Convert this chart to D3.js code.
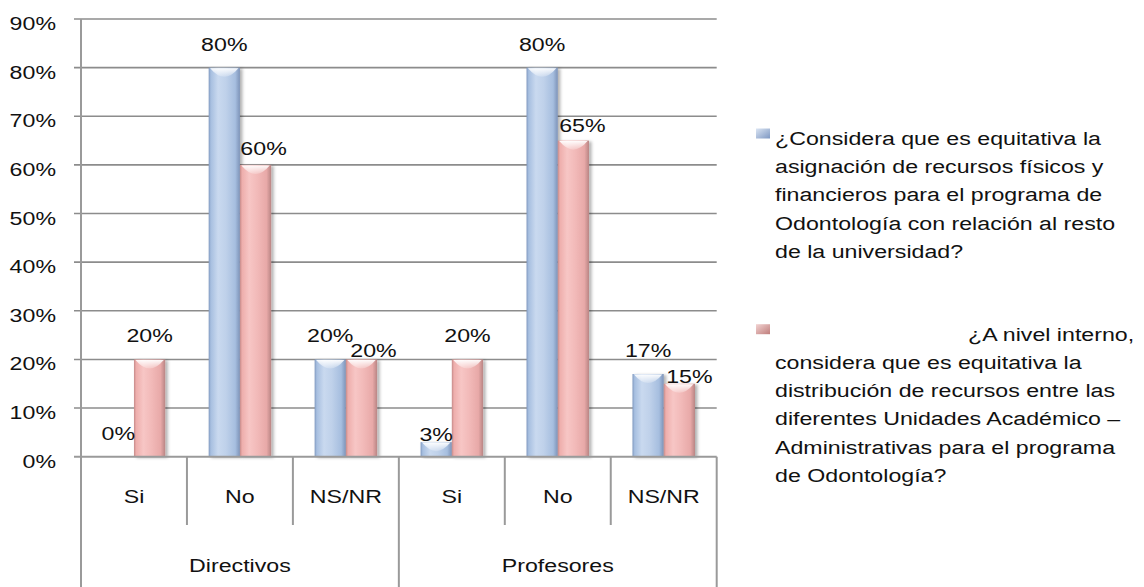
<!DOCTYPE html>
<html><head><meta charset="utf-8">
<script src="https://cdn.jsdelivr.net/npm/d3@7"></script>
<style>
html,body{margin:0;padding:0;background:#fff;}
svg{display:block;font-family:"Liberation Sans",Arial,sans-serif;}
</style></head>
<body><svg id="c" width="1144" height="587"></svg>
<script>
// ---- data ----
const groups = ["Directivos", "Profesores"];
const answers = ["Si", "No", "NS/NR"];
const seriesNames = [
  "¿Considera que es equitativa la asignación de recursos físicos y financieros para el programa de Odontología con relación al resto de la universidad?",
  "¿A nivel interno, considera que es equitativa la distribución de recursos entre las diferentes Unidades Académico – Administrativas para el programa de Odontología?"
];
const serie1 = [0, 80, 20, 3, 80, 17];     // blue
const serie2 = [20, 60, 20, 20, 65, 15];   // red
const yTicks = [0, 10, 20, 30, 40, 50, 60, 70, 80, 90];
const legendLines1 = ["¿Considera que es equitativa la", "asignación de recursos físicos y", "financieros para el programa de", "Odontología con relación al resto", "de la universidad?"];
const legendLines2 = ["¿A nivel interno,", "considera que es equitativa la", "distribución de recursos entre las", "diferentes Unidades Académico –", "Administrativas para el programa", "de Odontología?"];

// label nudges (layout only, px)
const labelShift1 = [[0,0],[0,0],[0,0],[0,16],[0,0],[0,0]];
const labelShift2 = [[0,0],[8,7],[12,15],[0,0],[9,8],[10,16]];

const SX = 1.22, FS = 19;
const svg = d3.select("#c");
const defs = svg.append("defs");

function hGrad(id, stops){
  const g = defs.append("linearGradient").attr("id", id).attr("x1","0").attr("x2","1").attr("y1","0").attr("y2","0");
  stops.forEach(s => g.append("stop").attr("offset", s[0]).attr("stop-color", s[1]));
}
hGrad("gB", [[0,"#8099c0"],[0.07,"#a7bfe0"],[0.3,"#c9d9ef"],[0.55,"#bfd1ea"],[0.85,"#a6bedf"],[1,"#7d93b8"]]);
hGrad("gR", [[0,"#c58a89"],[0.07,"#eeaeac"],[0.3,"#f7c6c5"],[0.55,"#f2bab9"],[0.85,"#e8a9a8"],[1,"#b98584"]]);
const hl = defs.append("linearGradient").attr("id","hl").attr("x1","0").attr("x2","0").attr("y1","0").attr("y2","1");
hl.append("stop").attr("offset",0).attr("stop-color","#fff").attr("stop-opacity",0.95);
hl.append("stop").attr("offset",1).attr("stop-color","#fff").attr("stop-opacity",0.2);
const f = defs.append("filter").attr("id","sh").attr("x","-30%").attr("y","-10%").attr("width","160%").attr("height","120%");
f.append("feDropShadow").attr("dx",2.5).attr("dy",1).attr("stdDeviation",1.6).attr("flood-color","#000").attr("flood-opacity",0.3);
function mGrad(id, a, b){
  const g = defs.append("linearGradient").attr("id", id).attr("x1","0").attr("x2","1").attr("y1","0").attr("y2","1");
  g.append("stop").attr("offset",0).attr("stop-color",a);
  g.append("stop").attr("offset",1).attr("stop-color",b);
}
mGrad("mB","#dbe5f3","#7d97c2");
mGrad("mR","#f2d3d2","#bf7d7b");

// ---- scales ----
const pLeft = 81, pRight = 716.7, pTop = 19, pBottom = 456.7;
const cats = [];
groups.forEach(g => answers.forEach(a => cats.push(g + "|" + a)));
const x = d3.scaleBand().domain(cats).range([pLeft, pRight]).padding(0);
const y = d3.scaleLinear().domain([0, 90]).range([pBottom, pTop]);
const barW = x.bandwidth() * 0.295;

function stext(sel, tx, ty, str, anchor){
  return sel.append("text")
    .attr("transform", `translate(${tx},${ty}) scale(${SX},1)`)
    .attr("text-anchor", anchor || "middle")
    .attr("font-size", FS).attr("fill", "#111").text(str);
}

// gridlines
const grid = svg.append("g");
grid.selectAll("line").data(yTicks.filter(t => t > 0)).join("line")
  .attr("x1", pLeft - 7).attr("x2", pRight).attr("y1", d => y(d)).attr("y2", d => y(d))
  .attr("stroke", "#8c8c8c").attr("stroke-width", 1.6);

// y axis
const yAxis = svg.append("g").attr("transform", `translate(${pLeft},0)`)
  .call(d3.axisLeft(y).tickValues(yTicks).tickSize(0).tickFormat(d => d + "%"));
yAxis.select(".domain").remove();
yAxis.selectAll(".tick text").remove();
yAxis.selectAll(".tick").each(function(d){
  stext(d3.select(this), -25, 10.5, d + "%", "end");
});

// bars
const barsG = svg.append("g");
function drawBars(vals, cls, grad, offset){
  vals.forEach((v, i) => {
    if (v <= 0) return;
    const cx = x(cats[i]) + x.bandwidth() / 2;
    const bx = cx + offset * barW;
    const by = y(v), bh = pBottom - y(v);
    const g = barsG.append("g").attr("class", cls);
    g.append("rect").attr("x", bx).attr("y", by).attr("width", barW).attr("height", bh)
      .attr("fill", `url(#${grad})`).attr("filter", "url(#sh)");
    const hh = Math.min(11, bh);
    g.append("path")
      .attr("d", `M${bx+1.5},${by+0.5} L${bx+barW-1.5},${by+0.5} Q${bx+barW/2},${by+hh*1.6} ${bx+1.5},${by+0.5} Z`)
      .attr("fill", "url(#hl)");
  });
}
drawBars(serie1, "s1", "gB", -1);
drawBars(serie2, "s2", "gR", 0);

// axis lines
svg.append("line").attr("x1", pLeft).attr("x2", pLeft).attr("y1", pTop).attr("y2", 587)
  .attr("stroke", "#9a9a9a").attr("stroke-width", 2);
svg.append("line").attr("x1", pLeft - 7).attr("x2", pRight).attr("y1", pBottom).attr("y2", pBottom)
  .attr("stroke", "#9a9a9a").attr("stroke-width", 2);
const divG = svg.append("g");
cats.forEach((c, i) => {
  if (i === 0) return;
  const xx = x(c);
  const isGroup = i % answers.length === 0;
  divG.append("line").attr("x1", xx).attr("x2", xx).attr("y1", pBottom).attr("y2", isGroup ? 587 : 525)
    .attr("stroke", "#9a9a9a").attr("stroke-width", 2);
});
divG.append("line").attr("x1", pRight).attr("x2", pRight).attr("y1", pBottom).attr("y2", 587)
  .attr("stroke", "#9a9a9a").attr("stroke-width", 2);

// category labels
const labG = svg.append("g");
cats.forEach(c => {
  stext(labG, x(c) + x.bandwidth() / 2, 503, c.split("|")[1]);
});
groups.forEach(g => {
  const x0 = x(g + "|" + answers[0]);
  const x1 = x(g + "|" + answers[answers.length - 1]) + x.bandwidth();
  stext(labG, (x0 + x1) / 2, 571.5, g);
});

// data labels
const dl = svg.append("g");
function drawLabels(vals, offset, shifts){
  vals.forEach((v, i) => {
    const cx = x(cats[i]) + x.bandwidth() / 2 + offset * barW + barW / 2;
    stext(dl, cx + shifts[i][0], y(v) - 17 + shifts[i][1], v + "%");
  });
}
drawLabels(serie1, -1, labelShift1);
drawLabels(serie2, 0, labelShift2);

// legend
const lg = svg.append("g");
const lineH = 28.2;
function legendItem(lines, y0, mgrad, firstX){
  lg.append("rect").attr("x", 756).attr("y", y0 - 16.5).attr("width", 14).attr("height", 10)
    .attr("fill", `url(#${mgrad})`);
  lines.forEach((t, i) => {
    const tx = (i === 0 && firstX) ? firstX : 775;
    stext(lg, tx, y0 + i * lineH, t, "start");
  });
}
legendItem(legendLines1, 145, "mB");
legendItem(legendLines2, 340.7, "mR", 968);
</script></body></html>
